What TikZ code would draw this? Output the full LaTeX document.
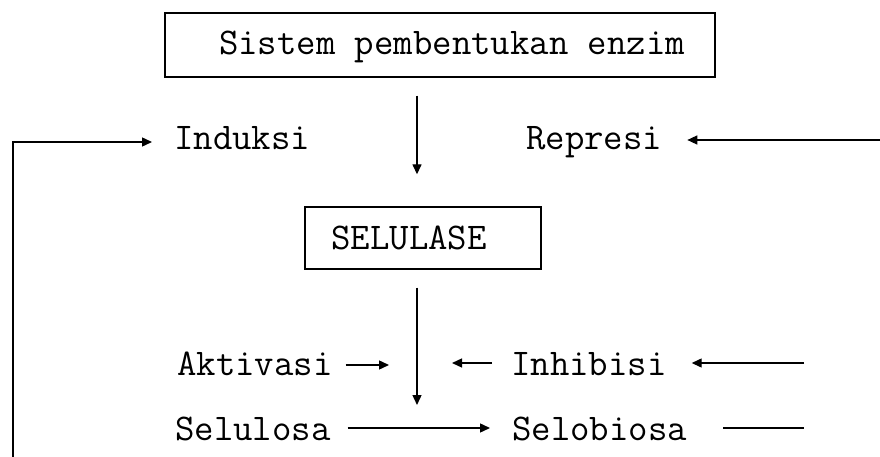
\documentclass[tikz,border=0pt]{standalone}
\usetikzlibrary{arrows.meta}
\begin{document}
\begin{tikzpicture}[x=1pt,y=-1pt,
  teks/.style={font=\ttfamily\fontsize{37.7}{40}\selectfont,inner sep=0pt},
  kotak/.style={teks,draw,line width=1.4pt},
  arr/.style={line width=1.4pt,-{Triangle[length=10pt,width=9pt]}},
  garis/.style={line width=1.4pt}]
  \useasboundingbox (0,0) rectangle (880,457);
  \coordinate (axis) at (417,0);
  \coordinate (ujung) at (804,0);
  \coordinate (kanan) at (880,0);
  \coordinate (kiri) at (13,457);
  \coordinate (hub) at (417,405);
  \node[kotak,minimum width=550pt,minimum height=64pt,text height=24pt,text depth=4pt] (sistem) at (440,45) {\hspace*{24pt}Sistem pembentukan enzim};
  \node[kotak,minimum width=236pt,minimum height=62pt] (selulase) at (423,238) {SELULASE\hspace*{28pt}};
  \node[teks,anchor=base west] (induksi) at (174,150) {Induksi};
  \node[teks,anchor=base west] (represi) at (526,150) {Represi};
  \node[teks,anchor=base west] (aktivasi) at (177,375) {Aktivasi};
  \node[teks,anchor=base west] (inhibisi) at (511,375) {Inhibisi};
  \node[teks,anchor=base west] (selulosa) at (175,440) {Selulosa};
  \node[teks,anchor=base west] (selobiosa) at (512,440) {Selobiosa};
  \draw[arr,shorten <=18pt,shorten >=32pt] (sistem.south -| axis) -- (selulase.north -| axis);
  \draw[arr,shorten <=18pt] (selulase.south -| axis) -- (hub);
  \draw[arr] (kiri) |- ([shift={(-22pt,8pt)}]induksi.base west);
  \draw[arr] ([yshift=10pt]represi.base -| kanan) -- ([shift={(25pt,10pt)}]represi.base east);
  \draw[arr] ([shift={(13pt,10pt)}]aktivasi.base east) -- ([shift={(-28pt,10pt)}]aktivasi.base -| axis);
  \draw[arr] ([shift={(-19pt,12pt)}]inhibisi.base west) -- ([shift={(35pt,12pt)}]inhibisi.base -| axis);
  \draw[arr] ([yshift=12pt]inhibisi.base -| ujung) -- ([shift={(25pt,12pt)}]inhibisi.base east);
  \draw[arr] ([shift={(17pt,12pt)}]selulosa.base east) -- ([shift={(-22pt,12pt)}]selobiosa.base west);
  \draw[garis] ([shift={(36pt,12pt)}]selobiosa.base east) -- ([yshift=12pt]selobiosa.base -| ujung);
\end{tikzpicture}
\end{document}
